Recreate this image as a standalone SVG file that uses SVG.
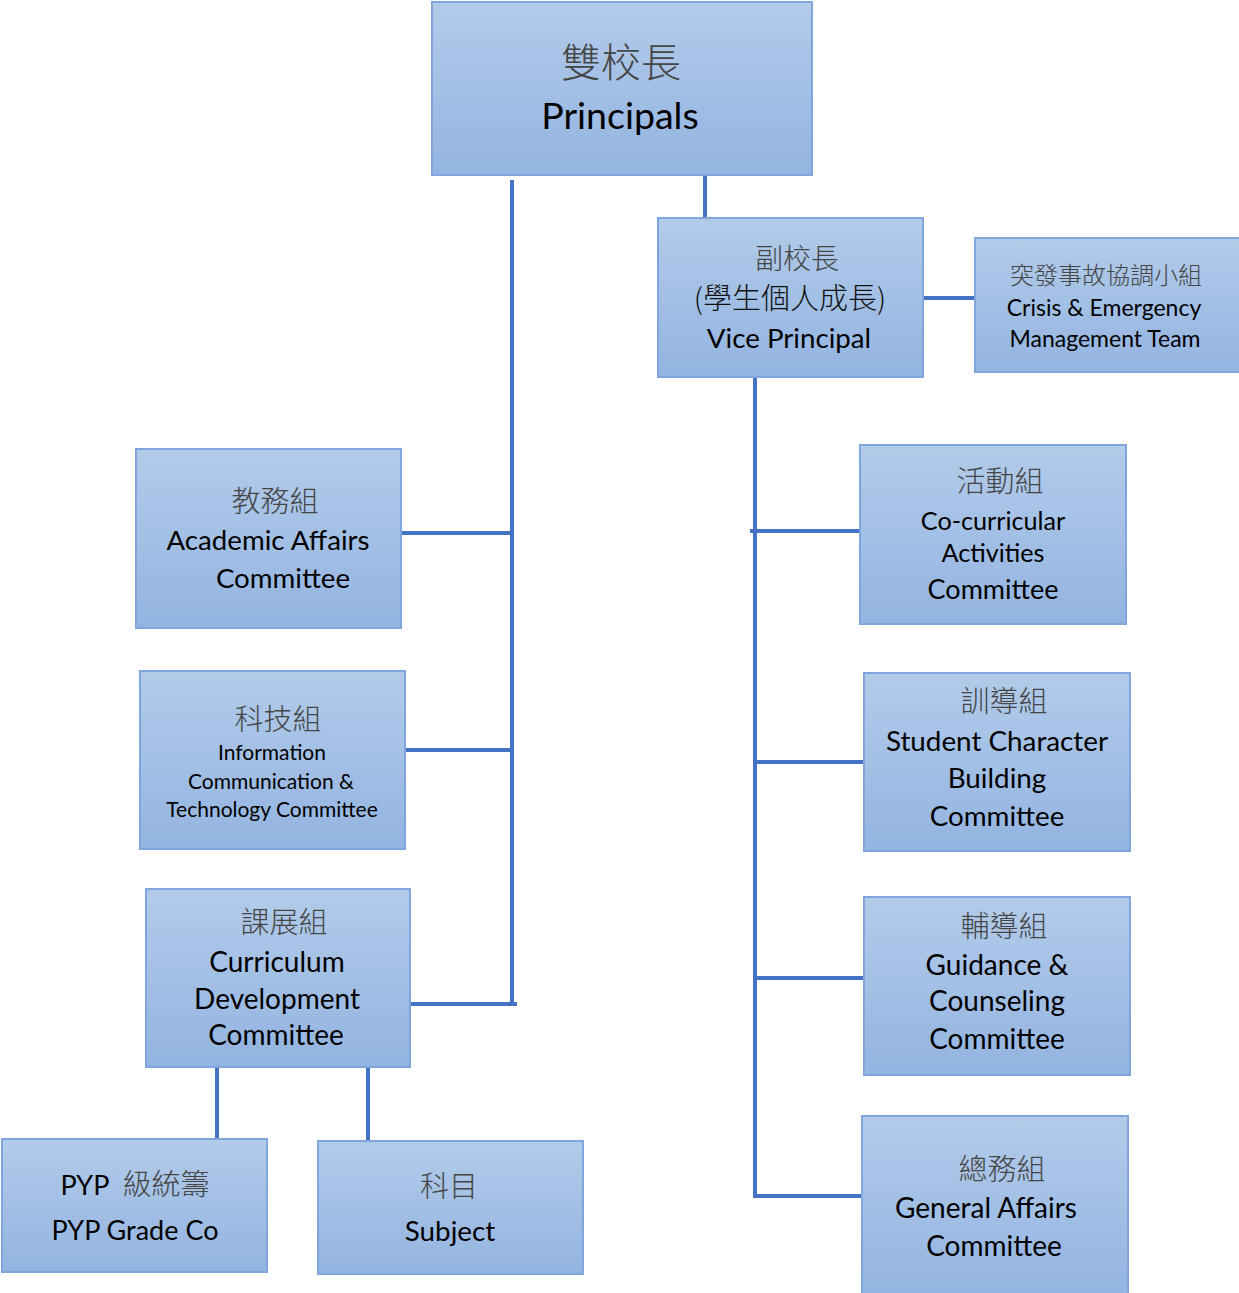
<svg xmlns="http://www.w3.org/2000/svg" width="1239" height="1293" viewBox="0 0 1239 1293">
<defs>
<linearGradient id="g" x1="0" y1="0" x2="0" y2="1">
<stop offset="0" stop-color="#b2cbe9"/>
<stop offset="1" stop-color="#93b4e1"/>
</linearGradient>
<style>
.box{fill:url(#g);stroke:#7fa7dd;stroke-width:2}
.en{font-family:Lato,"Noto Sans","Noto Sans CJK TC",sans-serif;fill:#000;text-anchor:middle}
.zh{font-family:"Noto Sans CJK TC",sans-serif;fill:#454545;text-anchor:middle;font-weight:300}
.ln{stroke:#4472c4;stroke-width:4;fill:none}
</style>
</defs>
<rect width="1239" height="1293" fill="#fff"/>
<g id="connectors">
<path class="ln" d="M512 180 V1006 M401 533 H512 M405 750 H512 M410 1004 H517"/>
<path class="ln" d="M705 175 V218 M923 298 H975"/>
<path class="ln" d="M755 377 V1198 M750 531 H860 M755 762 H864 M755 978 H864 M755 1196 H862"/>
<path class="ln" d="M217 1067 V1141 M368 1067 V1141"/>
</g>
<g id="principals">
<rect class="box" x="432" y="2" width="380" height="173"/>
<text class="zh" x="621" y="77" font-size="40">雙校長</text>
<text class="en" x="620" y="129" font-size="37.5">Principals</text>
</g>
<g id="vice-principal">
<rect class="box" x="658" y="218" width="265" height="159"/>
<text class="zh" x="797" y="269" font-size="28">副校長</text>
<text class="zh" x="790" y="309" font-size="29" style="fill:#111">(學生個人成長)</text>
<text class="en" x="789" y="348" font-size="27.7">Vice Principal</text>
</g>
<g id="crisis">
<rect class="box" x="975" y="238" width="266" height="134"/>
<text class="zh" x="1106" y="284" font-size="24">突發事故協調小組</text>
<text class="en" x="1104" y="316" font-size="23">Crisis &amp; Emergency</text>
<text class="en" x="1105" y="347" font-size="23">Management Team</text>
</g>
<g id="academic">
<rect class="box" x="136" y="449" width="265" height="179"/>
<text class="zh" x="275" y="512" font-size="29">教務組</text>
<text class="en" x="268" y="550" font-size="27.7">Academic Affairs</text>
<text class="en" x="283" y="588" font-size="27.7">Committee</text>
</g>
<g id="ict">
<rect class="box" x="140" y="671" width="265" height="178"/>
<text class="zh" x="278" y="730" font-size="29">科技組</text>
<text class="en" x="272" y="760" font-size="21">Information</text>
<text class="en" x="271" y="789" font-size="21">Communication &amp;</text>
<text class="en" x="272" y="817" font-size="21">Technology Committee</text>
</g>
<g id="curriculum">
<rect class="box" x="146" y="889" width="264" height="178"/>
<text class="zh" x="284" y="933" font-size="29">課展組</text>
<text class="en" x="277" y="972" font-size="28">Curriculum</text>
<text class="en" x="277" y="1009" font-size="28">Development</text>
<text class="en" x="276" y="1045" font-size="28">Committee</text>
</g>
<g id="pyp">
<rect class="box" x="2" y="1139" width="265" height="133"/>
<text class="en" x="135" y="1195" font-size="27" xml:space="preserve">PYP  <tspan style="font-family:'Noto Sans CJK TC',sans-serif;fill:#454545;font-weight:300" font-size="29">級統籌</tspan></text>
<text class="en" x="135" y="1240" font-size="27">PYP Grade Co</text>
</g>
<g id="subject">
<rect class="box" x="318" y="1141" width="265" height="133"/>
<text class="zh" x="449" y="1197" font-size="29">科目</text>
<text class="en" x="450" y="1241" font-size="27.8">Subject</text>
</g>
<g id="co-curricular">
<rect class="box" x="860" y="445" width="266" height="179"/>
<text class="zh" x="1000" y="492" font-size="29">活動組</text>
<text class="en" x="993" y="530" font-size="25.2">Co-curricular</text>
<text class="en" x="993" y="562" font-size="25.2">Activities</text>
<text class="en" x="993" y="599" font-size="27">Committee</text>
</g>
<g id="student-character">
<rect class="box" x="864" y="673" width="266" height="178"/>
<text class="zh" x="1004" y="712" font-size="29">訓導組</text>
<text class="en" x="997" y="751" font-size="27.8">Student Character</text>
<text class="en" x="997" y="788" font-size="27.8">Building</text>
<text class="en" x="997" y="826" font-size="27.8">Committee</text>
</g>
<g id="guidance">
<rect class="box" x="864" y="897" width="266" height="178"/>
<text class="zh" x="1004" y="937" font-size="29">輔導組</text>
<text class="en" x="997" y="975" font-size="28">Guidance &amp;</text>
<text class="en" x="997" y="1011" font-size="28">Counseling</text>
<text class="en" x="997" y="1049" font-size="28">Committee</text>
</g>
<g id="general-affairs">
<rect class="box" x="862" y="1116" width="266" height="180"/>
<text class="zh" x="1002" y="1180" font-size="29">總務組</text>
<text class="en" x="986" y="1218" font-size="28">General Affairs</text>
<text class="en" x="994" y="1256" font-size="28">Committee</text>
</g>
</svg>
